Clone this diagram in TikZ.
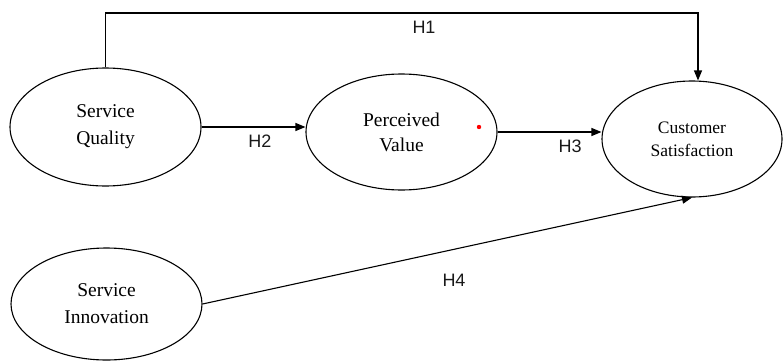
\documentclass[tikz,border=0pt]{standalone}
\usepackage{fontspec}
\setmainfont{Liberation Serif}
\newfontfamily\labfont{Liberation Sans}
\usetikzlibrary{shapes.geometric,arrows.meta}
\begin{document}
\begin{tikzpicture}[x=1pt,y=-1pt,
  construct/.style={draw=black, line width=1.1pt, ellipse, inner sep=0pt, align=center,
    text=black},
  arr/.style={draw=black, line width=1.1pt, -{Triangle[length=10pt,width=8pt]}},
  hlab/.style={font=\labfont\fontsize{18}{21}\selectfont, text=black!90, inner sep=0pt}]
\useasboundingbox (0,0) rectangle (783,361);
\node[construct, minimum width=191pt, minimum height=118pt,
  font=\fontsize{19.5}{27}\selectfont] (SQ) at (105.5,127) {Service\\Quality};
\node[construct, minimum width=191pt, minimum height=116pt,
  font=\fontsize{19.5}{25}\selectfont] (PV) at (401.5,132) {Perceived\\Value};
\node[construct, minimum width=180pt, minimum height=116pt,
  font=\fontsize{17.5}{23}\selectfont] (CS) at (692,139) {Customer\\Satisfaction};
\node[construct, minimum width=191pt, minimum height=112pt,
  font=\fontsize{19.5}{27}\selectfont] (SI) at (106.5,304) {Service\\Innovation};
\coordinate (h1c) at (698,13);
\draw[arr] (SQ.north) |- (h1c) -- (h1c |- CS.north);
\draw[arr] (SQ.east) -- (SQ.east -| PV.west);
\draw[arr] (PV.east) -- (PV.east -| CS.west);
\draw[arr] (SI.east) -- (CS.south);
\node[hlab] (H1) at (424,27) {H1};
\node[hlab] (H2) at (260,141) {H2};
\node[hlab] (H3) at (570,146) {H3};
\node[hlab] (H4) at (454,280) {H4};
\fill[red] (479,127) circle (2.2pt);
\end{tikzpicture}
\end{document}
